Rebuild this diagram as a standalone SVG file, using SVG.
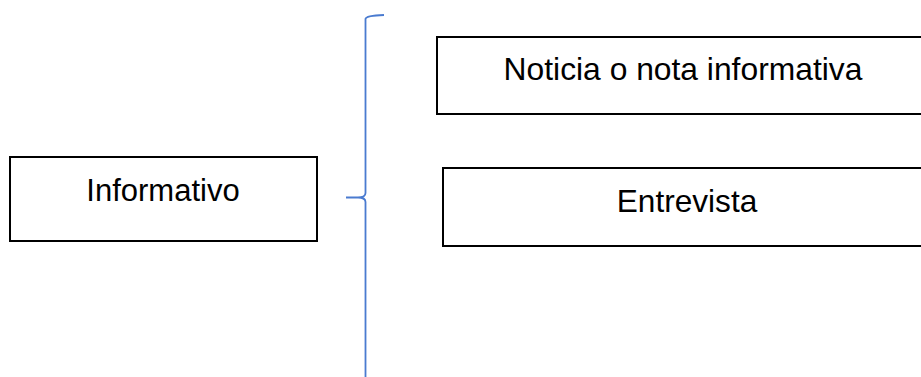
<svg xmlns="http://www.w3.org/2000/svg" width="921" height="377" viewBox="0 0 921 377">
<style>
.box{fill:#fff;stroke:#000;stroke-width:2}
.lbl{font-family:"Liberation Sans",Arial,sans-serif;font-size:31px;fill:#000;text-anchor:middle}
.brace{fill:none;stroke:#4A7BD0;stroke-width:1.8}
</style>
<rect width="921" height="377" fill="#fff"/>
<g id="connectors">
<path class="brace" d="M384,15 Q366,15.5 365.5,19 L365.5,193 Q365.5,197.5 358,197.5 L346,197.5 M358,197.5 Q365.5,197.5 365.5,202 L365.5,377"/>
</g>
<g id="informativo">
<rect class="box" x="10" y="157" width="307" height="84"/>
<text class="lbl" x="163" y="200.5">Informativo</text>
</g>
<g id="noticia">
<rect class="box" x="437" y="37" width="500" height="77"/>
<text class="lbl" x="683" y="80" style="font-size:31.8px">Noticia o nota informativa</text>
</g>
<g id="entrevista">
<rect class="box" x="443" y="168" width="500" height="78"/>
<text class="lbl" x="687" y="211.5" style="font-size:31.6px">Entrevista</text>
</g>
</svg>
